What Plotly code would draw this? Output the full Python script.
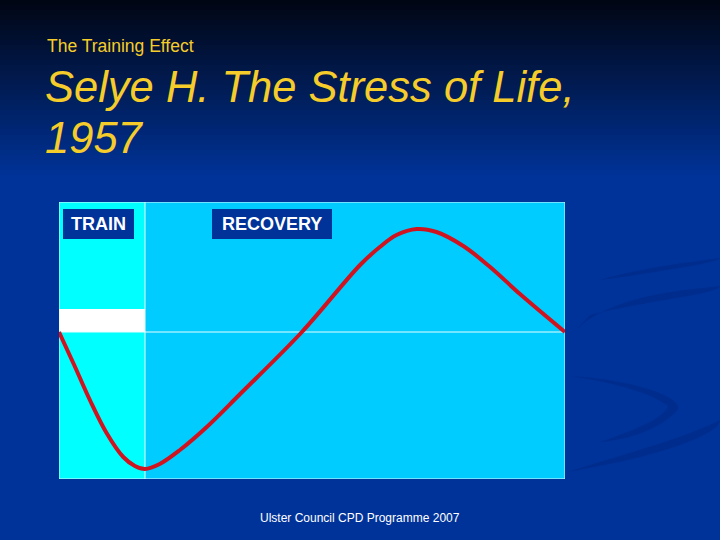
import plotly.graph_objects as go

# ---- data ----
time = [0, 3.0, 6.1, 9.4, 12.7, 15.0, 17.0, 19.9, 23.9, 29.2, 35.8, 48.0,
        59.5, 63.4, 66.7, 70.7, 74.6, 79.9, 85.2, 91.1, 100]
response = [0, -33, -68, -101, -125, -134, -137, -132, -118, -95, -62, 0,
            67, 85, 97, 103, 100, 86, 65, 38, 0]
train_end = 17.0
x_range = [0, 100]
y_range = [-147, 130]
band_top = 23
phase_labels = ["TRAIN", "RECOVERY"]

W, H = 720, 540
BG = "#003399"

def px(x):
    return x / W

def py(y):
    return 1 - y / H

fig = go.Figure()
fig.add_trace(go.Scatter(x=time, y=response, mode="lines",
                         line=dict(color="#CF1420", width=4, shape="spline", smoothing=1.0),
                         hoverinfo="skip", showlegend=False))

shapes = []
# background gradient at top
n = 36
top_c = (1, 6, 20)
bot_c = (0, 51, 153)
for i in range(n):
    t = i / (n - 1)
    c = tuple(int(round(top_c[k] + (bot_c[k] - top_c[k]) * t)) for k in range(3))
    y0 = i * 5
    shapes.append(dict(type="rect", xref="paper", yref="paper", x0=0, x1=1,
                       y0=py(y0 + 6), y1=py(y0), fillcolor="rgb(%d,%d,%d)" % c,
                       line=dict(width=0), layer="below"))

# decorative swooshes
def path_from(pts):
    s = "M %f,%f" % (px(pts[0][0]), py(pts[0][1]))
    for i in range(1, len(pts) - 2, 3):
        s += " C %f,%f %f,%f %f,%f" % (px(pts[i][0]), py(pts[i][1]),
                                       px(pts[i + 1][0]), py(pts[i + 1][1]),
                                       px(pts[i + 2][0]), py(pts[i + 2][1]))
    return s + " Z"

swoosh_col = "rgba(0,30,110,0.28)"
swooshes = [
    [(568, 338), (600, 300), (660, 292), (720, 286), (720, 294), (650, 300), (590, 315), (568, 338)],
    [(600, 280), (640, 268), (690, 262), (720, 258), (720, 262), (680, 268), (630, 276), (600, 280)],
    [(570, 376), (640, 380), (690, 400), (676, 412), (660, 428), (630, 440), (600, 442),
     (630, 432), (665, 418), (668, 406), (650, 392), (610, 382), (570, 376)],
    [(568, 472), (620, 455), (680, 440), (720, 420), (720, 432), (680, 448), (620, 462), (568, 472)],
]
for sw in swooshes:
    shapes.append(dict(type="path", xref="paper", yref="paper", path=path_from(sw),
                       fillcolor=swoosh_col, line=dict(width=0), layer="below"))

# chart regions
shapes += [
    dict(type="rect", xref="x", yref="y", x0=train_end, x1=x_range[1], y0=y_range[0], y1=y_range[1],
         fillcolor="#00CCFF", line=dict(width=0), layer="below"),
    dict(type="rect", xref="x", yref="y", x0=x_range[0], x1=train_end, y0=y_range[0], y1=y_range[1],
         fillcolor="#00FFFF", line=dict(width=0), layer="below"),
    dict(type="rect", xref="x", yref="y", x0=x_range[0], x1=train_end, y0=0, y1=band_top,
         fillcolor="#FFFFFF", line=dict(width=0), layer="below"),
    dict(type="line", xref="x", yref="y", x0=x_range[0], x1=x_range[1], y0=0, y1=0,
         line=dict(color="#E8FFFF", width=1), layer="below"),
    dict(type="line", xref="x", yref="y", x0=train_end, x1=train_end, y0=y_range[0], y1=y_range[1],
         line=dict(color="#E8FFFF", width=1), layer="below"),
    dict(type="rect", xref="x", yref="y", x0=x_range[0], x1=x_range[1], y0=y_range[0], y1=y_range[1],
         fillcolor="rgba(0,0,0,0)", line=dict(color="#E0F8FF", width=1), layer="below"),
]

# label boxes
boxes = [(63, 209, 134, 239), (212, 209, 332, 239)]
annotations = []
for (x0, y0, x1, y1), lab in zip(boxes, phase_labels):
    shapes.append(dict(type="rect", xref="paper", yref="paper", x0=px(x0), x1=px(x1),
                       y0=py(y1), y1=py(y0), fillcolor=BG, line=dict(width=0)))
    annotations.append(dict(x=px((x0 + x1) / 2), y=py((y0 + y1) / 2), xref="paper", yref="paper",
                            text="<b>%s</b>" % lab, showarrow=False, xanchor="center", yanchor="middle",
                            font=dict(family="Arial, Liberation Sans", size=18, color="white")))

title_font = "Arial, Liberation Sans"
gold = "#F5CC2A"
annotations += [
    dict(x=px(45), y=py(46), xref="paper", yref="paper", text="The Training Effect",
         showarrow=False, xanchor="left", yanchor="middle",
         font=dict(family=title_font, size=17.5, color=gold)),
    dict(x=px(43), y=py(87), xref="paper", yref="paper", text="<i>Selye H. The Stress of Life,</i>",
         showarrow=False, xanchor="left", yanchor="middle",
         font=dict(family=title_font, size=43.5, color=gold)),
    dict(x=px(43), y=py(138), xref="paper", yref="paper", text="<i>1957</i>",
         showarrow=False, xanchor="left", yanchor="middle",
         font=dict(family=title_font, size=43.5, color=gold)),
    dict(x=px(360), y=py(518), xref="paper", yref="paper", text="Ulster Council CPD Programme 2007",
         showarrow=False, xanchor="center", yanchor="middle",
         font=dict(family=title_font, size=12, color="white")),
]

fig.update_layout(
    width=W, height=H, margin=dict(l=0, r=0, t=0, b=0),
    paper_bgcolor=BG, plot_bgcolor="rgba(0,0,0,0)",
    xaxis=dict(domain=[px(59), px(565)], range=x_range, visible=False, fixedrange=True),
    yaxis=dict(domain=[py(479), py(202)], range=y_range, visible=False, fixedrange=True),
    shapes=shapes, annotations=annotations, showlegend=False,
)

fig.write_html("out.html")
